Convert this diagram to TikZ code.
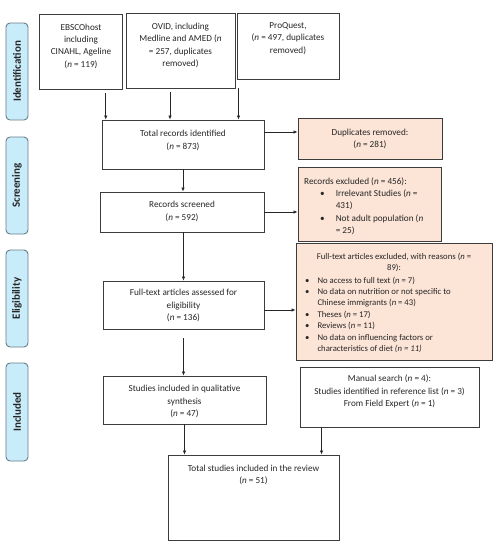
\documentclass[tikz,border=0pt]{standalone}
\usepackage{fontspec}
\setmainfont{Carlito}
\usetikzlibrary{arrows.meta}
\definecolor{peach}{RGB}{252,228,214}
\definecolor{sidefill}{RGB}{200,236,250}
\definecolor{sideline}{RGB}{105,125,135}
\definecolor{boxline}{RGB}{60,60,60}
\tikzset{
  box/.style={draw=boxline, line width=0.9pt, rectangle, inner sep=0pt},
  pbox/.style={box, fill=peach},
  side/.style={draw=sideline, line width=0.9pt, fill=sidefill, rounded corners=4pt, minimum width=22pt, inner sep=0pt},
  sidetxt/.style={rotate=90, font=\fontsize{11}{13}\selectfont\bfseries, text=black!85},
  txt/.style={inner sep=0pt, align=center, font=\fontsize{9.2}{12.3}\selectfont, text=black!85},
  stxt/.style={inner sep=0pt, align=left, font=\fontsize{8.7}{11.4}\selectfont, text=black!85},
  arr/.style={draw=black!85, line width=0.7pt, -{Latex[length=4pt,width=3.5pt]}}
}
\begin{document}
\begin{tikzpicture}[x=1pt,y=-1pt]
\useasboundingbox (0,0) rectangle (498,550);
% side labels
\node[side, minimum height=97pt] (sid) at (17,71.5) {};
\node[sidetxt] at (sid) {Identification};
\node[side, minimum height=97pt] (ssc) at (17,185.5) {};
\node[sidetxt] at (ssc) {Screening};
\node[side, minimum height=97pt] (sel) at (17,298.5) {};
\node[sidetxt] at (sel) {Eligibility};
\node[side, minimum height=98pt] (sin) at (17,412) {};
\node[sidetxt] at (sin) {Included};
% boxes
\node[box, minimum width=82.5pt, minimum height=75pt] (ebsco) at (80.75,51.5) {};
\node[txt] at (81,46) {EBSCOhost\\including\\CINAHL, Ageline\\(\textit{n} = 119)};
\node[box, minimum width=109pt, minimum height=75pt] (ovid) at (180.5,50.5) {};
\node[txt] at (180.5,45.5) {OVID, including\\Medline and AMED (\textit{n}\\= 257, duplicates\\removed)};
\node[box, minimum width=102pt, minimum height=66pt] (proq) at (288,46) {};
\node[txt] at (288,38.5) {ProQuest,\\(\textit{n} = 497, duplicates\\removed)};
\node[box, minimum width=162pt, minimum height=49pt] (total) at (183,144.5) {};
\node[txt] at (183,140.5) {Total records identified\\(\textit{n} = 873)};
\node[pbox, minimum width=144pt, minimum height=41pt] (dup) at (370,138.5) {};
\node[txt] at (370,139) {Duplicates removed:\\(\textit{n} = 281)};
\node[box, minimum width=164pt, minimum height=40pt] (scr) at (182,212) {};
\node[txt] at (182,211.5) {Records screened\\(\textit{n} = 592)};
\node[pbox, minimum width=143pt, minimum height=74pt] (recex) at (369.5,204) {};
\node[txt, anchor=north west, align=left] at (304,175.5) {%
\begin{tabular}{@{\hspace{16pt}}l@{\hspace{11pt}}l@{}}
\multicolumn{2}{@{}l@{}}{Records excluded (\textit{n} = 456):}\\
\textbullet & Irrelevant Studies (\textit{n} =\\
 & 431)\\
\textbullet & Not adult population (\textit{n}\\
 & = 25)
\end{tabular}};
\node[pbox, minimum width=196pt, minimum height=117pt] (ftex) at (394,301.5) {};
\node[stxt, align=center] at (394,262.5) {Full-text articles excluded, with reasons (\textit{n} =\\89):};
\node[stxt, anchor=north west] at (305,275) {%
\begin{tabular}{@{}l@{\hspace{8pt}}l@{}}
\textbullet & No access to full text (\textit{n} = 7)\\
\textbullet & No data on nutrition or not specific to\\
 & Chinese immigrants (\textit{n} = 43)\\
\textbullet & Theses (\textit{n} = 17)\\
\textbullet & Reviews (\textit{n} = 11)\\
\textbullet & No data on influencing factors or\\
 & characteristics of diet \textit{(n = 11)}
\end{tabular}};
\node[box, minimum width=161pt, minimum height=48pt] (ftas) at (183.5,305) {};
\node[txt] at (183.5,305.5) {Full-text articles assessed for\\eligibility\\(\textit{n} = 136)};
\node[box, minimum width=163pt, minimum height=48pt] (stud) at (184.5,400) {};
\node[txt] at (184.5,401.5) {Studies included in qualitative\\synthesis\\(\textit{n} = 47)};
\node[box, minimum width=179pt, minimum height=60pt] (manual) at (389.5,397) {};
\node[txt] at (389.5,391.5) {Manual search (\textit{n} = 4):\\Studies identified in reference list (\textit{n} = 3)\\From Field Expert (\textit{n} = 1)};
\node[box, minimum width=171pt, minimum height=85pt] (totstud) at (253.5,497.5) {};
\node[txt] at (253.5,475) {Total studies included in the review\\(\textit{n} = 51)};
% connectors
\draw[arr] ([xshift=25pt,yshift=-4pt]ebsco.south) -- ([xshift=25pt]ebsco.south |- total.north);
\draw[arr] ([xshift=-10.5pt,yshift=-4pt]ovid.south) -- ([xshift=-10.5pt]ovid.south |- total.north);
\draw[arr] ([xshift=2pt,yshift=-9pt]proq.south west) -- ([xshift=2pt]proq.south west |- total.north);
\draw[arr] ([yshift=12.5pt]total.east) -- ([yshift=12.5pt]total.east -| dup.west);
\draw[arr] (total.south) -- (total.south |- scr.north);
\draw[arr] (scr.east) -- (scr.east -| recex.west);
\draw[arr] ([xshift=1.5pt]scr.south) -- ([xshift=1.5pt]scr.south |- ftas.north);
\draw[arr] ([yshift=-5pt]ftas.east) -- ([yshift=-5pt]ftas.east -| ftex.west);
\draw[arr] ([yshift=-9pt]ftas.south) -- (ftas.south |- stud.north);
\draw[arr] (stud.south) -- (stud.south |- totstud.north);
\draw[arr] ([xshift=22pt]manual.south west) -- ([xshift=22pt]manual.south west |- totstud.north);
\end{tikzpicture}
\end{document}
